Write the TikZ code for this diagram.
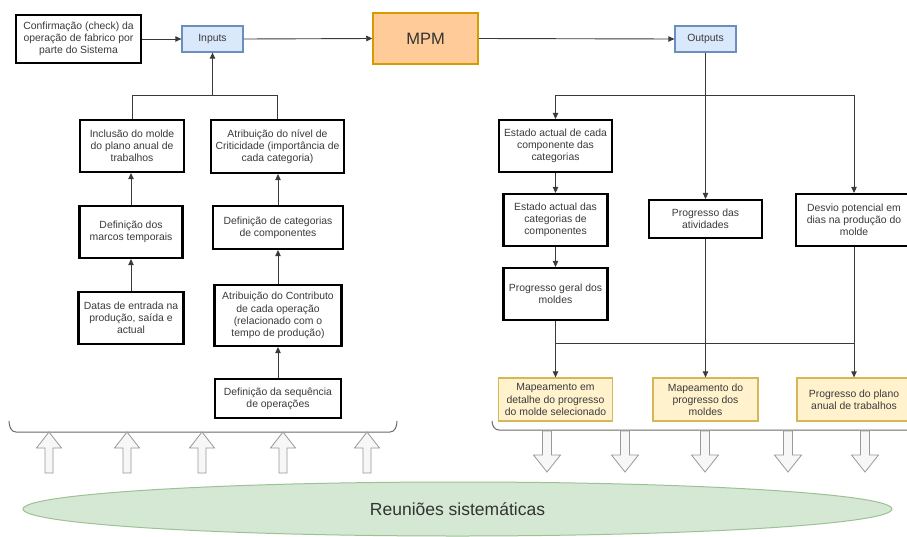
\documentclass[tikz,border=0pt]{standalone}
\usepackage{fontspec}
\setmainfont{Liberation Sans}
\usetikzlibrary{shapes.geometric,arrows.meta}
\definecolor{txt}{HTML}{3A3A3A}
\definecolor{ln}{HTML}{3A3A3A}
\definecolor{blueF}{HTML}{DAE8FC}
\definecolor{blueD}{HTML}{6C8EBF}
\definecolor{orF}{HTML}{FFCC99}
\definecolor{orD}{HTML}{D79B00}
\definecolor{yeF}{HTML}{FFF2CC}
\definecolor{yeD}{HTML}{D6B656}
\definecolor{grF}{HTML}{D5E8D4}
\definecolor{grD}{HTML}{9CC294}
\definecolor{bk}{HTML}{999999}
\definecolor{bkF}{HTML}{F7F7F7}
\begin{document}
\begin{tikzpicture}[x=1pt,y=-1pt,
  base/.style={rectangle,inner sep=0pt,align=center,text=txt,font=\fontsize{10.4}{12.2}\selectfont},
  blk/.style={base,draw=black,line width=2.2pt,fill=white},
  io/.style={base,draw=blueD,fill=blueF,line width=1.3pt,minimum width=61pt,minimum height=26pt},
  res/.style={base,draw=yeD,fill=yeF,line width=1.3pt},
  conn/.style={draw=ln,line width=0.9pt},
  arr/.style={conn,-{Triangle[length=6pt,width=5.5pt]}},
  blockarrow/.style={draw=bk,fill=bkF,line width=0.8pt,line join=miter},
  bracestyle/.style={draw=bk!70!black,line width=1pt}
]
\path[use as bounding box,clip] (0,0) rectangle (907,536);
\fill[white] (0,0) rectangle (907,536);

% top row
\node[blk,minimum width=125pt,minimum height=48pt] (conf) at (78.5,39) {Confirmação (check) da\\operação de fabrico por\\parte do Sistema};
\node[io] (inputs) at (212.5,39) {Inputs};
\node[base,draw=orD,fill=orF,line width=1.5pt,minimum width=105pt,minimum height=51pt,font=\fontsize{16.5}{18}\selectfont,text=black!80] (mpm) at (425.5,38.5) {MPM};
\node[io] (outputs) at (705.5,39) {Outputs};

% left inputs
\node[blk,minimum width=104pt,minimum height=52pt] (incl) at (132,146) {Inclusão do molde\\do plano anual de\\trabalhos};
\node[blk,minimum width=133pt,minimum height=53pt] (crit) at (277.5,146.5) {Atribuição do nível de\\Criticidade (importância de\\cada categoria)};
\node[blk,minimum width=103pt,minimum height=52pt] (marcos) at (131,232) {Definição dos\\marcos temporais};
\node[blk,minimum width=130pt,minimum height=43pt] (categ) at (278,227.5) {Definição de categorias\\de componentes};
\node[blk,minimum width=105pt,minimum height=52pt] (datas) at (131,318) {Datas de entrada na\\produção, saída e\\actual};
\node[blk,minimum width=127pt,minimum height=61pt] (contrib) at (278,315.5) {Atribuição do Contributo\\de cada operação\\(relacionado com o\\tempo de produção)};
\node[blk,minimum width=126pt,minimum height=39pt] (seq) at (278,398.5) {Definição da sequência\\de operações};

% right outputs
\node[blk,minimum width=113pt,minimum height=52pt] (est1) at (555.5,146) {Estado actual de cada\\componente das\\categorias};
\node[blk,minimum width=104pt,minimum height=52pt] (est2) at (555.5,220) {Estado actual das\\categorias de\\componentes};
\node[blk,minimum width=104pt,minimum height=52pt] (geral) at (555.5,294) {Progresso geral dos\\moldes};
\node[blk,minimum width=113pt,minimum height=38pt] (ativ) at (705.5,219) {Progresso das\\atividades};
\node[blk,minimum width=116pt,minimum height=52pt] (desvio) at (854,220) {Desvio potencial em\\dias na produção do\\molde};
\node[res,minimum width=114pt,minimum height=43pt] (map1) at (555.5,399.5) {Mapeamento em\\detalhe do progresso\\do molde selecionado};
\node[res,minimum width=105pt,minimum height=43pt] (map2) at (705.5,399.5) {Mapeamento do\\progresso dos\\moldes};
\node[res,minimum width=114pt,minimum height=43pt] (map3) at (854,399.5) {Progresso do plano\\anual de trabalhos};

% connectors top
\draw[arr] (conf.east) -- (inputs.west);
\draw[arr] (inputs.east) -- (mpm.west);
\draw[arr] (mpm.east) -- (outputs.west);

% left tree
\coordinate (jl) at (212.5,95);
\draw[conn] (incl.north) |- (jl);
\draw[conn] (crit.north) |- (jl);
\draw[arr] (jl) -- (inputs.south);
\draw[arr] (marcos.north) -- (marcos.north |- incl.south);
\draw[arr] (datas.north) -- (datas.north |- marcos.south);
\draw[arr] (categ.north) -- (categ.north |- crit.south);
\draw[arr] (contrib.north) -- (contrib.north |- categ.south);
\draw[arr] (seq.north) -- (seq.north |- contrib.south);

% right tree
\coordinate (jr) at (705.5,95);
\draw[arr] (outputs.south) -- (ativ.north);
\draw[arr] (jr) -| (est1.north);
\draw[arr] (jr) -| (desvio.north);
\draw[arr] (est1.south) -- (est1.south |- est2.north);
\draw[arr] (est2.south) -- (est2.south |- geral.north);
\coordinate (ml) at (555.5,343);
\coordinate (mr) at (854,343);
\draw[conn] (ml) -- (mr);
\draw[arr] (geral.south) -- (map1.north);
\draw[arr] (ativ.south) -- (map2.north);
\draw[arr] (desvio.south) -- (map3.north);

% braces
\draw[bracestyle] (9,421) to[out=-90,in=180] (16,432) -- (390,432) to[out=0,in=-90] (397,421);
\draw[bracestyle] (492,421) to[out=-90,in=180] (499,430) -- (920,430);

% up block arrows
\foreach \cx in {49,127,202,283,367}{
  \draw[blockarrow] (\cx,432) -- (\cx+12.5,448) -- (\cx+4,448) -- (\cx+4,473) -- (\cx-4,473) -- (\cx-4,448) -- (\cx-12.5,448) -- cycle;
}
% down block arrows
\foreach \cx in {547,625,705,788,865}{
  \draw[blockarrow] (\cx,472) -- (\cx+13.5,455) -- (\cx+4.5,455) -- (\cx+4.5,431) -- (\cx-4.5,431) -- (\cx-4.5,455) -- (\cx-13.5,455) -- cycle;
}

% ellipse
\node[ellipse,draw=grD,fill=grF,line width=1pt,minimum width=869pt,minimum height=54pt,inner sep=0pt,font=\fontsize{17.5}{20}\selectfont,text=black!80] (reun) at (457.5,509) {Reuniões sistemáticas};
\end{tikzpicture}
\end{document}
